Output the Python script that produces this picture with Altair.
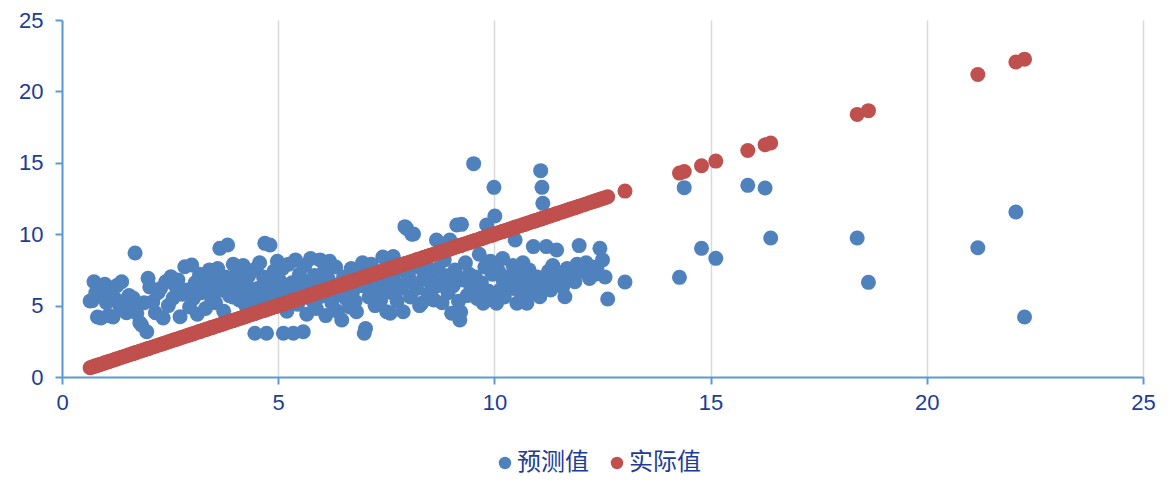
import altair as alt
import pandas as pd

actual = [
    0.65, 0.70, 0.74, 0.78, 0.82, 0.86, 0.90, 0.95, 0.99,
    1.03, 1.08, 1.12, 1.18, 1.22, 1.27, 1.33, 1.38, 1.44, 1.49,
    1.55, 1.62, 1.65, 1.69, 1.73, 1.80, 1.84, 1.90, 1.96, 1.99,
    2.03, 2.10, 2.16, 2.22, 2.28, 2.34, 2.40, 2.46,
    2.52, 2.57, 2.62, 2.68, 2.73, 2.78, 2.84, 2.90, 2.95, 3.00,
    3.04, 3.08, 3.13, 3.18, 3.22, 3.27, 3.32, 3.36, 3.41, 3.46,
    3.51, 3.55, 3.60, 3.65, 3.69, 3.74, 3.78, 3.83, 3.87, 3.92, 3.96,
    4.01, 4.05, 4.10, 4.14, 4.19, 4.23, 4.28, 4.32, 4.37, 4.41, 4.46, 4.49,
    4.53, 4.57, 4.62, 4.66, 4.69, 4.73, 4.77, 4.81, 4.85, 4.90, 4.94, 4.98,
    5.02, 5.06, 5.10, 5.12, 5.16, 5.20, 5.24, 5.28, 5.32, 5.35, 5.40, 5.45, 5.49,
    5.53, 5.58, 5.62, 5.66, 5.71, 5.75, 5.80, 5.84, 5.88, 5.93, 5.97,
    6.01, 6.06, 6.10, 6.15, 6.19, 6.24, 6.28, 6.33, 6.37, 6.42, 6.47,
    6.51, 6.56, 6.60, 6.65, 6.69, 6.74, 6.78, 6.81, 6.86, 6.90, 6.95, 6.99,
    7.02, 7.06, 7.10, 7.15, 7.19, 7.24, 7.28, 7.33, 7.37, 7.42, 7.46,
    7.51, 7.55, 7.59, 7.63, 7.66, 7.70, 7.75, 7.79, 7.84, 7.89, 7.93, 7.97,
    8.02, 8.06, 8.09, 8.13, 8.18, 8.22, 8.27, 8.32, 8.36, 8.41, 8.46,
    8.51, 8.55, 8.60, 8.66, 8.70, 8.75, 8.79, 8.84, 8.88, 8.93, 8.97,
    9.01, 9.05, 9.09, 9.13, 9.17, 9.20, 9.22, 9.24, 9.28, 9.33, 9.37, 9.42, 9.46,
    9.52, 9.56, 9.60, 9.65, 9.69, 9.74, 9.78, 9.82, 9.87, 9.91, 9.95, 9.99,
    10.01, 10.05, 10.10, 10.14, 10.19, 10.23, 10.28, 10.34, 10.38, 10.43, 10.48,
    10.52, 10.56, 10.61, 10.66, 10.70, 10.75, 10.80, 10.85, 10.90, 10.95, 10.99,
    11.05, 11.07, 11.10, 11.12, 11.16, 11.20, 11.25, 11.30, 11.35, 11.40, 11.44,
    11.52, 11.58, 11.63, 11.68, 11.74, 11.80, 11.86, 11.91, 11.96,
    12.05, 12.12, 12.20, 12.27, 12.33, 12.37, 12.44, 12.50, 12.56, 12.62,
    13.02,
    14.28, 14.39, 14.79, 15.12, 15.86, 16.26, 16.39, 18.39, 18.65,
    21.18, 22.06, 22.26,
    3.20, 3.45, 3.70, 3.95, 4.20, 4.45, 4.70, 4.95, 5.20, 5.45, 5.70, 5.95,
    6.20, 6.45, 6.70, 6.95, 7.20, 7.45, 7.70, 7.95, 8.20, 8.45, 8.70, 8.95,
    9.20, 9.45, 9.70, 9.95, 10.20, 10.45, 10.70, 10.95, 11.20, 11.45,
]

predicted = [
    5.32, 5.35, 6.67, 5.90, 4.20, 6.30, 4.13, 5.60, 6.50,
    5.20, 4.30, 6.10, 4.20, 5.50, 6.40, 5.00, 6.67, 5.30, 4.50,
    5.70, 4.90, 5.51, 8.68, 4.46, 3.80, 3.64, 5.20, 3.17, 6.91,
    6.30, 5.27, 4.50, 5.90, 6.20, 4.13, 6.67, 5.00,
    7.02, 5.53, 6.40, 6.80, 4.22, 5.80, 7.72, 6.10, 4.90, 7.84,
    5.50, 6.60, 4.40, 7.20, 5.90, 6.90, 4.80, 6.20, 7.50, 5.30,
    6.80, 5.20, 7.60, 9.01, 6.10, 4.60, 7.00, 9.24, 5.70, 6.50, 7.90,
    6.00, 7.30, 5.40, 6.70, 7.80, 5.10, 6.40, 7.10, 4.80, 5.90, 3.06, 7.60,
    6.20, 8.00, 5.60, 7.00, 9.36, 3.06, 6.50, 9.24, 5.20, 7.40, 6.00, 8.10,
    6.80, 5.40, 7.60, 3.06, 6.20, 4.60, 7.90, 5.80, 6.60, 3.06, 8.20, 5.10, 7.20,
    6.00, 3.17, 7.80, 4.40, 6.70, 8.30, 5.30, 7.10, 4.80, 6.40, 8.20,
    5.70, 7.40, 4.30, 6.90, 8.10, 5.20, 6.30, 7.70, 4.60, 5.90, 3.99,
    7.00, 5.50, 6.60, 4.90, 7.60, 6.10, 5.30, 4.57, 7.30, 6.40, 8.00, 3.06,
    3.40, 6.80, 5.60, 7.90, 6.20, 5.00, 7.30, 6.50, 5.40, 8.40, 6.00,
    4.57, 7.10, 4.46, 5.90, 8.43, 6.60, 5.30, 7.50, 6.20, 4.57, 10.53, 10.41,
    7.00, 5.60, 10.00, 10.01, 6.40, 7.70, 5.00, 5.16, 6.90, 8.00, 5.80,
    7.20, 6.10, 5.40, 9.59, 7.60, 6.60, 5.20, 8.20, 7.00, 5.90, 9.59,
    4.46, 6.40, 7.50, 10.64, 5.30, 3.99, 4.55, 10.69, 6.80, 8.00, 5.70, 7.20, 6.20,
    14.94, 7.00, 5.50, 8.60, 6.30, 5.16, 7.70, 10.64, 6.00, 8.10, 5.40, 13.28,
    11.27, 5.16, 7.40, 6.10, 8.30, 5.60, 7.00, 10.30, 6.50, 7.80, 9.59,
    5.16, 7.20, 6.00, 8.00, 6.70, 5.16, 7.50, 5.90, 9.13, 6.40, 7.00,
    5.62, 14.45, 13.28, 12.16, 6.80, 9.13, 7.40, 6.10, 7.80, 6.50, 8.89,
    7.10, 6.30, 5.62, 7.60, 6.90, 7.30, 6.67, 7.90, 9.20,
    7.40, 8.00, 6.90, 7.70, 7.20, 7.61, 9.01, 8.20, 7.00, 5.46,
    6.65,
    6.98, 13.26, 9.01, 8.31, 13.42, 13.24, 9.73, 9.73, 6.63,
    9.05, 11.55, 4.20,
    6.10, 5.80, 6.40, 5.60, 6.00, 5.50, 6.20, 5.70, 5.40, 6.30, 5.90, 5.60,
    6.60, 6.10, 5.80, 6.40, 5.70, 6.20, 5.90, 6.60, 6.20, 6.80, 6.40, 7.10,
    6.90, 7.00, 6.60, 7.20, 6.80, 6.20, 6.60, 6.30, 6.50, 7.00,
]

series_names = ["预测值", "实际值"]
series_colors = ["#4f81bd", "#c0504d"]
ticks = [0, 5, 10, 15, 20, 25]

df = pd.concat([
    pd.DataFrame({"x": actual, "y": predicted, "series": series_names[0], "k": 0}),
    pd.DataFrame({"x": actual, "y": actual, "series": series_names[1], "k": 1}),
], ignore_index=True)

FONT = "Liberation Sans, Noto Sans CJK SC, sans-serif"
CJK = "Noto Sans CJK SC, sans-serif"
TXT = "#1c3c96"
AX = "#5b9bd5"

chart = alt.Chart(df).mark_point(filled=True, opacity=1, size=225, shape="circle").encode(
    x=alt.X("x:Q", scale=alt.Scale(domain=[0, 25], nice=False),
            axis=alt.Axis(values=ticks, title=None, grid=True, gridColor="#d9d9d9", gridWidth=1.5,
                          domainColor=AX, domainWidth=2, tickColor=AX, tickWidth=2, tickSize=7,
                          labelFontSize=22, labelColor=TXT, labelFont=FONT, labelPadding=8,
                          labelFlush=False)),
    y=alt.Y("y:Q", scale=alt.Scale(domain=[0, 25], nice=False),
            axis=alt.Axis(values=ticks, title=None, grid=False,
                          domainColor=AX, domainWidth=2, tickColor=AX, tickWidth=2, tickSize=7,
                          labelFontSize=22, labelColor=TXT, labelFont=FONT, labelPadding=12,
                          labelFlush=False)),
    color=alt.Color("series:N", scale=alt.Scale(domain=series_names, range=series_colors),
                    legend=alt.Legend(title=None, orient="none", direction="horizontal",
                                      legendX=431, legendY=431, symbolType="circle", symbolSize=155,
                                      labelFontSize=24, labelColor=TXT, labelFont=CJK,
                                      labelOffset=0, columnPadding=16, symbolStrokeWidth=0,
                                      labelLimit=300)),
    order=alt.Order("k:Q"),
).properties(
    width=1081, height=357,
    autosize=alt.AutoSizeParams(type="none"),
    padding={"left": 54, "top": 12, "right": 22, "bottom": 102},
).configure_view(stroke=None)

chart.save("out.html", embed_options={"renderer": "svg", "actions": False})
